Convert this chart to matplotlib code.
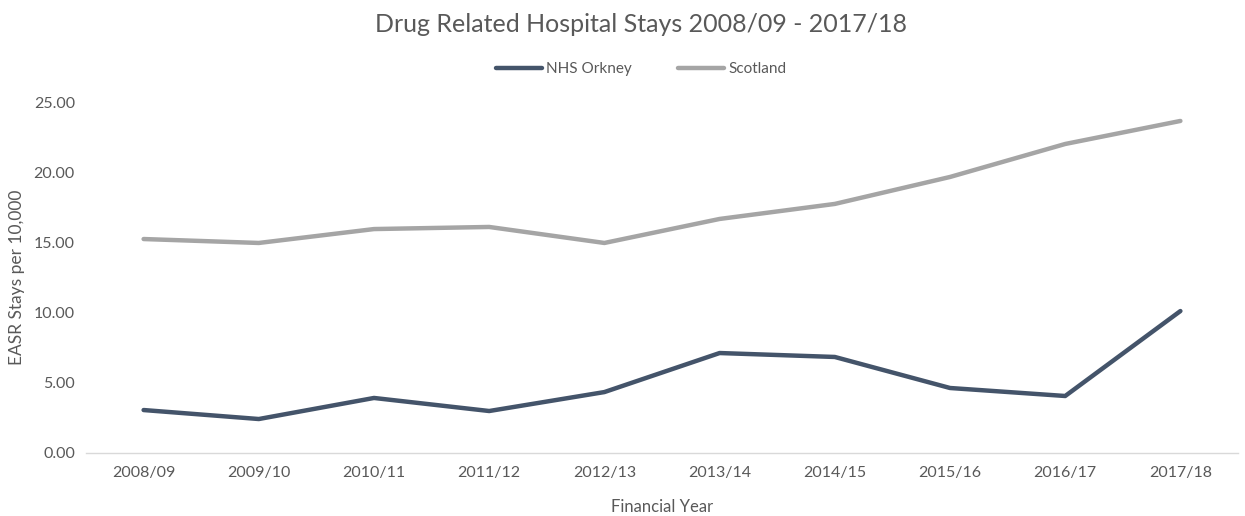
import matplotlib
matplotlib.use("Agg")
import matplotlib.pyplot as plt
from matplotlib.ticker import FormatStrFormatter

years = ["2008/09", "2009/10", "2010/11", "2011/12", "2012/13",
         "2013/14", "2014/15", "2015/16", "2016/17", "2017/18"]
orkney = [3.06, 2.42, 3.92, 2.99, 4.34, 7.12, 6.84, 4.63, 4.06, 10.11]
scotland = [15.24, 14.96, 15.95, 16.10, 14.96, 16.67, 17.74, 19.66, 22.01, 23.65]

plt.rcParams['font.family'] = ['Lato', 'DejaVu Sans']
txt = '#595959'

fig = plt.figure(figsize=(12.45, 5.16), dpi=100)
ax = fig.add_axes([86/1245, 1-453/516, (1238-86)/1245, (453-102)/516])

x = list(range(len(years)))
ax.plot(x, orkney, color='#44546A', lw=3.2, label='NHS Orkney', solid_capstyle='round')
ax.plot(x, scotland, color='#A5A5A5', lw=3.2, label='Scotland', solid_capstyle='round')

ax.set_xlim(-0.5, len(years) - 0.5)
ax.set_ylim(0, 25)
ax.set_yticks([0, 5, 10, 15, 20, 25])
ax.yaxis.set_major_formatter(FormatStrFormatter('%.2f'))
ax.set_xticks(x)
ax.set_xticklabels(years)
ax.tick_params(axis='both', length=0, colors=txt, labelsize=11.5)
ax.tick_params(axis='x', pad=9)
ax.tick_params(axis='y', pad=8)
for s in ['top', 'right', 'left']:
    ax.spines[s].set_visible(False)
ax.spines['bottom'].set_color('#D9D9D9')
ax.spines['bottom'].set_linewidth(1)

ax.set_ylabel('EASR Stays per 10,000', color=txt, fontsize=12.5, labelpad=6)
ax.set_xlabel('Financial Year', color=txt, fontsize=12, labelpad=14)

fig.text(0.515, 1-24/516, 'Drug Related Hospital Stays 2008/09 - 2017/18',
         ha='center', va='center', fontsize=18, color=txt)
fig.legend(loc='center', bbox_to_anchor=(0.515, 1-69/516), ncol=2, frameon=False,
           fontsize=11, labelcolor=txt, handlelength=3, columnspacing=3, handletextpad=0.3)

fig.savefig('out.png', dpi=100, facecolor='white')
